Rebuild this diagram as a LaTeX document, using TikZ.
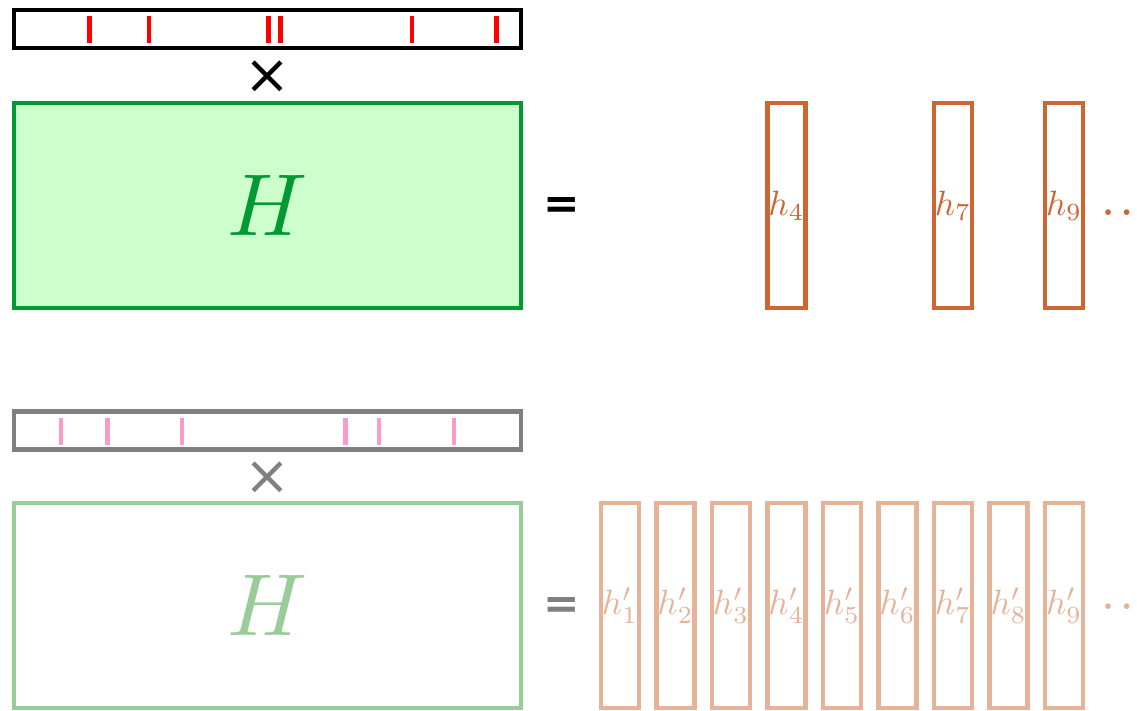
\RequirePackage{fix-cm}
\documentclass[tikz,border=0pt]{standalone}
\usepackage{fontspec}
\newfontfamily\opfont{DejaVu Sans}
\definecolor{hgreen}{RGB}{0,153,51}
\definecolor{hgreenfill}{RGB}{204,255,204}
\definecolor{hgreenlight}{RGB}{153,204,153}
\definecolor{horange}{RGB}{204,102,51}
\definecolor{horangelight}{RGB}{230,179,153}
\definecolor{selpink}{RGB}{255,153,204}
\def\pxu{0.025cm}
\newcommand\bigmath[2]{\scalebox{#1}{$#2$}}
\tikzset{
  vecbar/.style={draw, line width=3pt, fill=white, minimum width=507*\pxu,
    minimum height=38*\pxu, inner sep=0pt},
  matbox/.style={draw, line width=3pt, minimum width=507*\pxu,
    minimum height=205*\pxu, inner sep=0pt},
  colbox/.style={draw, line width=3pt, minimum width=38*\pxu,
    minimum height=205*\pxu, inner sep=0pt},
  selmark/.style={line width=3pt},
  eqsign/.style={inner sep=0pt, font=\opfont\bfseries\fontsize{31}{36}\selectfont},
  timessign/.style={inner sep=0pt, font=\opfont\fontsize{39}{44}\selectfont},
  dotsign/.style={inner sep=0pt, anchor=base west, font=\boldmath}
}
\begin{document}
\begin{tikzpicture}[x=\pxu, y=-\pxu]
  \useasboundingbox (0,0) rectangle (1137,710);

  % sparse selection
  \node[vecbar] (sel) at (267.5,29) {};
  \foreach \x in {89.5,149,268.6,280.6,412,496.5}
    \draw[selmark, red] (\x,16) -- (\x,43);
  \node[timessign] (times) at (267,77) {×};
  \node[matbox, draw=hgreen, fill=hgreenfill, text=hgreen] (H) at (267.5,205.5) {\bigmath{6.25}{H}};
  \node[eqsign] (eq) at (562,207.5) {=};
  \foreach \i/\x in {4/786.5,7/953,9/1064}
    \node[colbox, draw=horange, text=horange] (h\i) at (\x,205.5) {\bigmath{2.5}{h_{\i}}};
  \node[dotsign, text=horange] (dots) at (1102,215) {\bigmath{2.6}{\ldots}};

  % dense selection
  \node[vecbar, draw=gray] (selb) at (267.5,430.5) {};
  \foreach \x in {61,107.6,181.7,345.5,379.3,453.8}
    \draw[selmark, selpink] (\x,418) -- (\x,445);
  \node[timessign, text=gray] (timesb) at (267,478.6) {×};
  \node[matbox, draw=hgreenlight, text=hgreenlight] (Hb) at (267.5,605.5) {\bigmath{6.25}{H}};
  \node[eqsign, text=gray] (eqb) at (562,608) {=};
  \foreach \i in {1,...,9}
    \node[colbox, draw=horangelight, text=horangelight] (hb\i)
      at ({620+55.5*(\i-1)},605.5) {\bigmath{2.5}{h'_{\i}}};
  \node[dotsign, text=horangelight] (dotsb) at (1102,609) {\bigmath{2.6}{\ldots}};
\end{tikzpicture}
\end{document}
